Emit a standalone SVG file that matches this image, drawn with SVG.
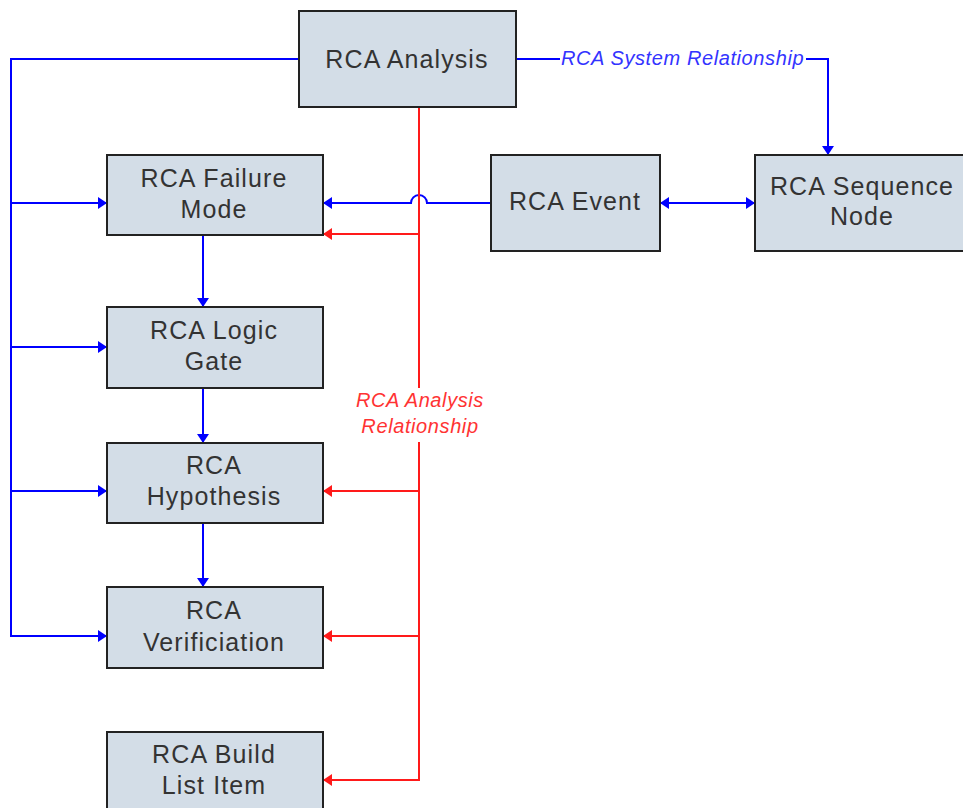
<svg xmlns="http://www.w3.org/2000/svg" width="963" height="808" viewBox="0 0 963 808">
<style>
.node rect{fill:#d3dde7;stroke:#222;stroke-width:2}
.node text{font-family:"Liberation Sans",Arial,sans-serif;font-size:25px;letter-spacing:1.1px;fill:#333;text-anchor:middle}
.b{stroke:#0000ff;stroke-width:2;fill:none}
.r{stroke:#ff1a1a;stroke-width:2;fill:none}
.lbl{font-family:"Liberation Sans",Arial,sans-serif;font-size:20px;letter-spacing:0.6px;font-style:italic}
</style>
<defs>
<marker id="ab" viewBox="0 0 9 12" refX="9" refY="6" markerWidth="9" markerHeight="12" markerUnits="userSpaceOnUse" orient="auto-start-reverse"><path d="M0,0 L9,6 L0,12 Z" fill="#0000ff"/></marker>
<marker id="ar" viewBox="0 0 9 12" refX="9" refY="6" markerWidth="9" markerHeight="12" markerUnits="userSpaceOnUse" orient="auto"><path d="M0,0 L9,6 L0,12 Z" fill="#ff1a1a"/></marker>
</defs>
<rect width="963" height="808" fill="#fff"/>
<g id="connectors">
<path class="b" d="M299,59 H11 V636 H107" marker-end="url(#ab)"/>
<path class="b" d="M11,203 H107" marker-end="url(#ab)"/>
<path class="b" d="M11,347 H107" marker-end="url(#ab)"/>
<path class="b" d="M11,491 H107" marker-end="url(#ab)"/>
<path class="b" d="M203,235 V307" marker-end="url(#ab)"/>
<path class="b" d="M203,388 V443" marker-end="url(#ab)"/>
<path class="b" d="M203,523 V587" marker-end="url(#ab)"/>
<path class="b" d="M491,203 H427 A8,8 0 0 0 411,203 H323" marker-end="url(#ab)"/>
<path class="b" d="M660,203 H755" marker-start="url(#ab)" marker-end="url(#ab)"/>
<path class="b" d="M516,59 H560"/>
<path class="b" d="M806,59 H828 V155" marker-end="url(#ab)"/>
<text class="lbl" x="561" y="65" fill="#3333ff">RCA System Relationship</text>
<path class="r" d="M419,107 V388"/>
<path class="r" d="M419,442 V780 H323" marker-end="url(#ar)"/>
<path class="r" d="M419,234 H323" marker-end="url(#ar)"/>
<path class="r" d="M419,491 H323" marker-end="url(#ar)"/>
<path class="r" d="M419,636 H323" marker-end="url(#ar)"/>
<text class="lbl" x="420" y="407" fill="#ff3333" text-anchor="middle">RCA Analysis</text>
<text class="lbl" x="420" y="433" fill="#ff3333" text-anchor="middle">Relationship</text>
</g>
<g id="rca-analysis" class="node"><rect x="299" y="11" width="217" height="96"/><text x="407" y="68">RCA Analysis</text></g>
<g id="rca-failure-mode" class="node"><rect x="107" y="155" width="216" height="80"/><text x="214" y="187">RCA Failure</text><text x="214" y="218">Mode</text></g>
<g id="rca-event" class="node"><rect x="491" y="155" width="169" height="96"/><text x="575" y="210">RCA Event</text></g>
<g id="rca-sequence-node" class="node"><rect x="755" y="155" width="210" height="96"/><text x="862" y="195">RCA Sequence</text><text x="862" y="225">Node</text></g>
<g id="rca-logic-gate" class="node"><rect x="107" y="307" width="216" height="81"/><text x="214" y="339">RCA Logic</text><text x="214" y="370">Gate</text></g>
<g id="rca-hypothesis" class="node"><rect x="107" y="443" width="216" height="80"/><text x="214" y="474">RCA</text><text x="214" y="505">Hypothesis</text></g>
<g id="rca-verification" class="node"><rect x="107" y="587" width="216" height="81"/><text x="214" y="619">RCA</text><text x="214" y="651">Verificiation</text></g>
<g id="rca-build-list-item" class="node"><rect x="107" y="732" width="216" height="90"/><text x="214" y="763">RCA Build</text><text x="214" y="794">List Item</text></g>
</svg>
